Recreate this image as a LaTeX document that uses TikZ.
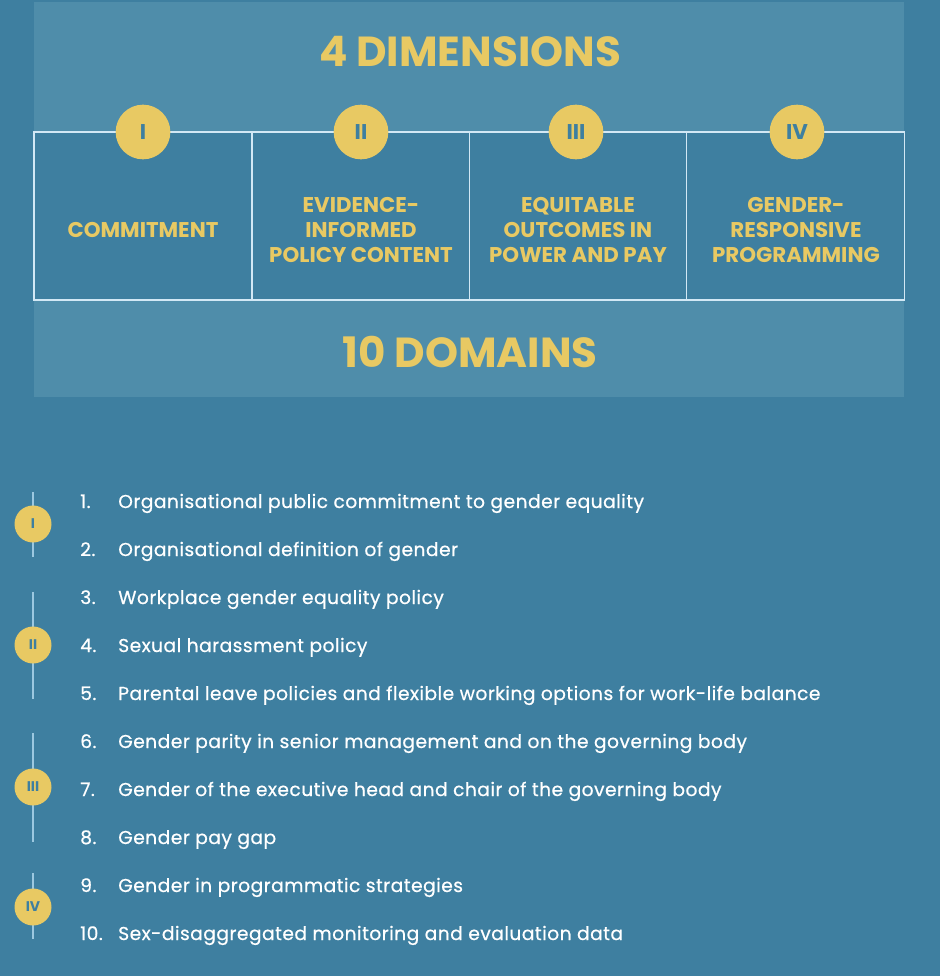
\documentclass[tikz,border=0pt]{standalone}
\usepackage{fontspec}
\setmainfont{Poppins}
\newfontfamily\listfont[FakeBold=0.6,LetterSpace=2.5]{Poppins}
\definecolor{bg}{HTML}{3E7FA0}
\definecolor{panel}{HTML}{4F8DAA}
\definecolor{gold}{HTML}{E8C963}
\definecolor{rule}{HTML}{D2E8F5}
\definecolor{tick}{HTML}{9CC8E0}
\tikzset{
  dimbox/.style={draw=rule, line width=1.2pt, fill=bg, minimum width=163.5pt, minimum height=126pt, inner sep=0pt},
  boxtext/.style={text=gold, font=\bfseries\fontsize{16}{18.75}\selectfont, align=center, inner sep=0pt},
  bigcirc/.style={circle, fill=gold, text=bg, minimum size=41pt, inner sep=0pt, font=\bfseries\fontsize{16}{18}\selectfont},
  smallcirc/.style={circle, fill=gold, text=bg, minimum size=27.75pt, inner sep=0pt, font=\bfseries\fontsize{10.5}{12}\selectfont},
  heading/.style={text=gold, font=\bfseries\fontsize{31.5}{36}\selectfont, inner sep=0pt},
  num/.style={text=white, anchor=base west, inner sep=0pt, font=\listfont\fontsize{14}{16}\selectfont},
  item/.style={text=white, anchor=base west, inner sep=0pt, font=\listfont\fontsize{14}{16}\selectfont},
  tickline/.style={draw=tick, line width=1.2pt}
}
\begin{document}
\begin{tikzpicture}[x=0.75pt,y=-0.75pt]
\fill[bg] (0,0) rectangle (940,976);
\useasboundingbox (0,0) rectangle (940,976);
\fill[panel] (34,2) rectangle (904,397);
\node[heading] (h1) at (470,52) {4 DIMENSIONS};
\node[heading] (h2) at (470,351.5) {10 DOMAINS};
% boxes
\node[dimbox] (b1) at (143,216) {};
\node[dimbox] (b2) at (361,216) {};
\node[dimbox] (b3) at (578.5,216) {};
\node[dimbox] (b4) at (795.5,216) {};
\node[boxtext] (t1) at (143,230) {COMMITMENT};
\node[boxtext] (t2) at (361,230) {EVIDENCE-\\INFORMED\\POLICY CONTENT};
\node[boxtext] (t3) at (578,230) {EQUITABLE\\OUTCOMES IN\\POWER AND PAY};
\node[boxtext] (t4) at (796,230) {GENDER-\\RESPONSIVE\\PROGRAMMING};
\node[bigcirc] (c1) at (143,132) {I};
\node[bigcirc] (c2) at (361,132) {II};
\node[bigcirc] (c3) at (576,132) {III};
\node[bigcirc] (c4) at (797,132) {IV};
% list
\foreach \i/\txt in {
 1/Organisational public commitment to gender equality,
 2/Organisational definition of gender,
 3/Workplace gender equality policy,
 4/Sexual harassment policy,
 5/Parental leave policies and flexible working options for work-life balance,
 6/Gender parity in senior management and on the governing body,
 7/Gender of the executive head and chair of the governing body,
 8/Gender pay gap,
 9/Gender in programmatic strategies,
 10/Sex-disaggregated monitoring and evaluation data}{
  \node[num] (n\i) at (80,{508+48*(\i-1)}) {\i.};
  \node[item] (l\i) at (118,{508+48*(\i-1)}) {\txt};
}
% side markers
\coordinate (a1) at (33,492); \coordinate (z1) at (33,557);
\coordinate (a2) at (33,592); \coordinate (z2) at (33,699);
\coordinate (a3) at (33,733); \coordinate (z3) at (33,842);
\coordinate (a4) at (33,873); \coordinate (z4) at (33,939);
\foreach \k in {1,2,3,4}{ \draw[tickline] (a\k) -- (z\k); }
\node[smallcirc] (s1) at (33,524) {I};
\node[smallcirc] (s2) at (33,645) {II};
\node[smallcirc] (s3) at (33,787) {III};
\node[smallcirc] (s4) at (33,907) {IV};
\end{tikzpicture}
\end{document}
